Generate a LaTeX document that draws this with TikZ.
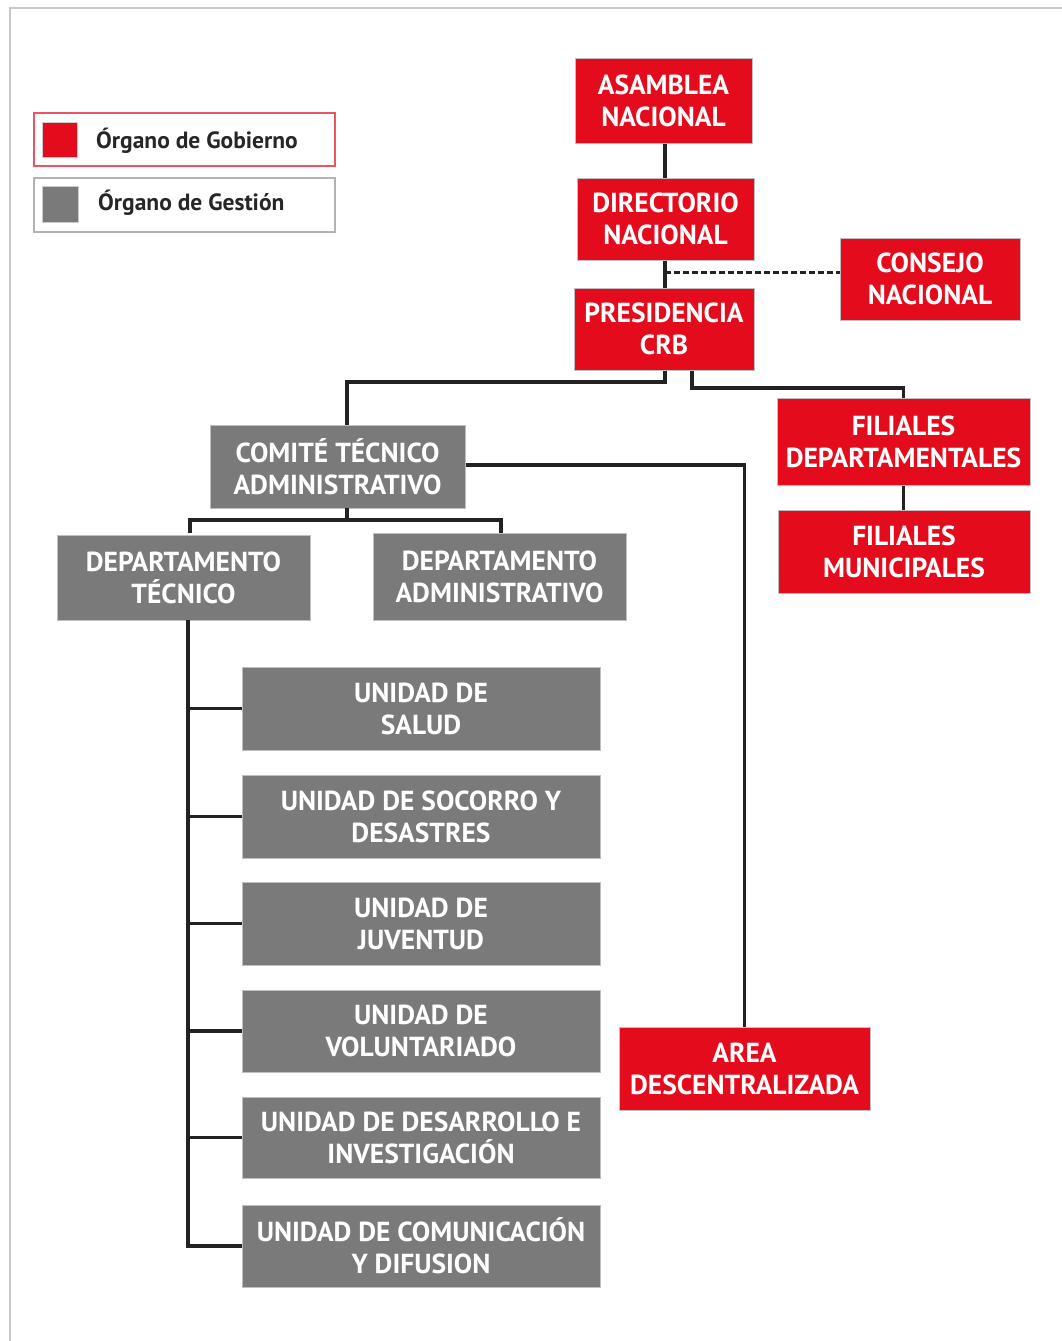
\documentclass[tikz,border=0pt]{standalone}
\usepackage{fontspec}
\setmainfont{PT Sans}
\definecolor{gobred}{RGB}{228,12,28}
\definecolor{gesgray}{RGB}{122,122,122}
\definecolor{linedark}{RGB}{34,34,34}
\definecolor{framegray}{RGB}{200,200,200}
\begin{document}
\begin{tikzpicture}[x=1pt,y=-1pt,
  orgbox/.style={draw=black!25,line width=1pt,align=center,text=white,
    font=\fontsize{27.5}{32}\selectfont\bfseries,inner sep=0pt},
  gob/.style={orgbox,fill=gobred},
  ges/.style={orgbox,fill=gesgray},
  conn/.style={draw=linedark,line width=3.5pt},
  dashconn/.style={draw=linedark,line width=3pt,dash pattern=on 6pt off 3pt},
  legtext/.style={anchor=west,font=\fontsize{23.5}{26}\selectfont\bfseries,text=black!85,inner sep=0pt}]
\useasboundingbox (0,0) rectangle (1062,1341);
% page frame
\draw[framegray,line width=2.5pt] (10,1341) -- (10,8) -- (1062,8);
% legend
\node[draw=gobred!70,line width=1.5pt,minimum width=301pt,minimum height=53pt,inner sep=0pt] (leg1) at (184.5,139.5) {};
\node[fill=gobred,draw=black!20,minimum width=35pt,minimum height=35pt,inner sep=0pt] (legsq1) at (59.5,139.5) {};
\node[legtext] (legt1) at (96,141) {Órgano de Gobierno};
\node[draw=black!30,line width=1.5pt,minimum width=301pt,minimum height=54pt,inner sep=0pt] (leg2) at (184.5,205) {};
\node[fill=gesgray,draw=black!20,minimum width=36pt,minimum height=36pt,inner sep=0pt] (legsq2) at (60,204) {};
\node[legtext] (legt2) at (98,203) {Órgano de Gestión};
% nodes
\node[gob,minimum width=177pt,minimum height=85pt] (asam) at (663.5,100.5) {ASAMBLEA\\NACIONAL};
\node[gob,minimum width=177pt,minimum height=82pt] (dir) at (665.5,219) {DIRECTORIO\\NACIONAL};
\node[gob,minimum width=180pt,minimum height=82pt] (cons) at (930,279) {CONSEJO\\NACIONAL};
\node[gob,minimum width=180pt,minimum height=82pt] (pres) at (664,329) {PRESIDENCIA\\CRB};
\node[ges,minimum width=255pt,minimum height=83pt] (comite) at (337.5,466.5) {COMITÉ TÉCNICO\\ADMINISTRATIVO};
\node[gob,minimum width=253pt,minimum height=87pt] (fdep) at (903.5,441.5) {FILIALES\\DEPARTAMENTALES};
\node[gob,minimum width=252pt,minimum height=83pt] (fmun) at (904,551.5) {FILIALES\\MUNICIPALES};
\node[ges,minimum width=253pt,minimum height=85pt] (dtec) at (183.5,577.5) {DEPARTAMENTO\\TÉCNICO};
\node[ges,minimum width=253pt,minimum height=87pt] (dadm) at (499.5,576.5) {DEPARTAMENTO\\ADMINISTRATIVO};
\node[gob,minimum width=251pt,minimum height=83pt] (area) at (744.5,1068.5) {AREA\\DESCENTRALIZADA};
\node[ges,minimum width=358pt,minimum height=83pt] (u1) at (421,708.5) {UNIDAD DE\\SALUD};
\node[ges,minimum width=358pt,minimum height=83pt] (u2) at (421,816.5) {UNIDAD DE SOCORRO Y\\DESASTRES};
\node[ges,minimum width=358pt,minimum height=83pt] (u3) at (421,923.5) {UNIDAD DE\\JUVENTUD};
\node[ges,minimum width=358pt,minimum height=82pt] (u4) at (421,1031) {UNIDAD DE\\VOLUNTARIADO};
\node[ges,minimum width=358pt,minimum height=81pt] (u5) at (421,1137.5) {UNIDAD DE DESARROLLO E\\INVESTIGACIÓN};
\node[ges,minimum width=358pt,minimum height=82pt] (u6) at (421,1246) {UNIDAD DE COMUNICACIÓN\\Y DIFUSION};
% junction coordinates
\coordinate (vtop) at (665,100);
\coordinate (jdash) at (665,272);
\coordinate (fx) at (903.5,0);
\coordinate (spine) at (188,1247.5);
% connectors
\draw[conn] (vtop |- asam.south) -- (vtop |- dir.north);
\draw[conn] (vtop |- dir.south) -- (vtop |- pres.north);
\draw[dashconn] (jdash) -- (jdash -| cons.west);
\draw[conn] (vtop |- pres.south) |- (347,382) -- (347,425);
\draw[conn] ([xshift=28pt]pres.south) |- (903.5,388) -- (fx |- fdep.north);
\draw[conn] (fx |- fdep.south) -- (fx |- fmun.north);
\draw[conn] (comite.east |- 0,465) -| (area.north);
\draw[conn] (347,508) -- (347,520);
\draw[conn] (190,533) |- (501,520) -- (501,533);
\draw[conn] (188,620) -- (spine);
\foreach \u in {u1,u2,u3,u4,u5,u6}{
  \draw[conn] (\u.west -| spine) -- (\u.west);
}
\end{tikzpicture}
\end{document}
